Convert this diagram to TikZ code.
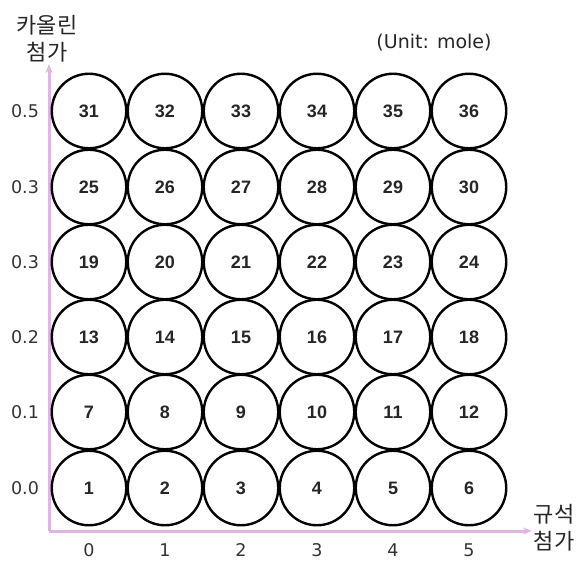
\documentclass[tikz,border=0pt]{standalone}
\usepackage{fontspec}
\setmainfont{DejaVu Sans}
\newfontfamily\numfont{Liberation Sans}
\newfontfamily\cjk{Noto Sans CJK KR}
\usetikzlibrary{arrows.meta}
\definecolor{axispink}{RGB}{222,182,226}
\begin{document}
\begin{tikzpicture}[x=1pt,y=-1pt,
  cell/.style={circle,draw=black,line width=2.4pt,minimum size=74.5pt,inner sep=0pt,
    font=\numfont\bfseries\fontsize{18}{18}\selectfont,text=black!85},
  tick/.style={font=\fontsize{17.5}{17.5}\selectfont,text=black!80},
  axislabel/.style={font=\cjk\fontsize{22}{27}\selectfont,align=center,text=black!85},
  axisline/.style={draw=axispink,line width=3pt,-{Stealth[length=9pt,width=7pt]}}]
\useasboundingbox (0,0) rectangle (583,566);
% axes
\coordinate (o) at (49,531);
\coordinate (ytop) at (49,64);
\coordinate (xend) at (532,531);
\draw[axisline] (o) -- (ytop);
\draw[axisline] (o) -- (xend);
% grid of samples
\foreach \r/\yy in {0/488,1/412,2/337,3/262,4/187,5/111}{
  \foreach \c/\xx in {0/89,1/165,2/241,3/317,4/393,5/469}{
    \pgfmathtruncatemacro{\n}{\r*6+\c+1}
    \node[cell] (c\n) at (\xx,\yy) {\n};
  }
}
% tick labels
\foreach \v/\yy [count=\i] in {0.0/488,0.1/412,0.2/337,0.3/262,0.3/187,0.5/111}
  \node[tick] (yl\i) at (25,\yy) {\v};
\foreach \v/\xx [count=\i] in {0/89,1/165,2/241,3/317,4/393,5/469}
  \node[tick] (xl\i) at (\xx,550) {\v};
% axis titles
\node[axislabel] (ytitle) at (47,39) {카올린\\첨가};
\node[axislabel] (xtitle) at (554,528) {규석\\첨가};
\node[font=\fontsize{19}{19}\selectfont,text=black!85] (unit) at (434,43) {(Unit: mole)};
\end{tikzpicture}
\end{document}
